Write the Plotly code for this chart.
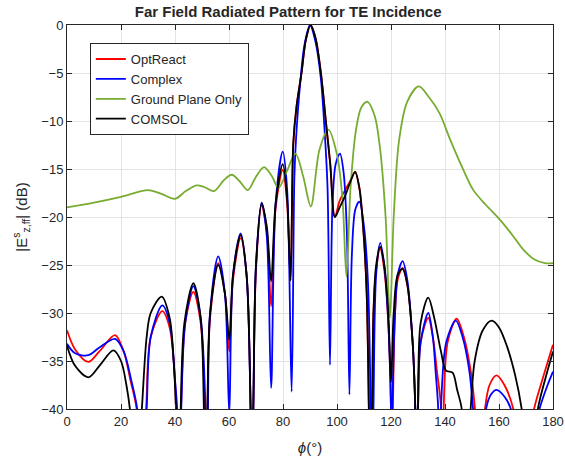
import plotly.graph_objects as go

# ground plane only
gp_phi = [0, 10, 20, 30, 35, 40, 44, 48, 51, 54.5, 58, 61, 64, 67, 70, 73, 76, 78.3, 81.5, 84.6,
          87.5, 90.3, 93.5, 96.8, 100, 102, 103.5, 105, 107, 109, 111.3, 114, 116, 118, 119.6,
          121, 123, 126, 130.3, 134, 138, 142, 146.8, 150.5, 155, 160.4, 165, 169, 173, 177, 180]
gp_db = [-19.0, -18.5, -17.9, -17.2, -17.6, -18.1, -17.3, -16.7, -16.9, -17.3, -16.2, -15.6, -16.3, -17.2,
         -15.8, -14.8, -15.8, -17.0, -15.2, -13.4, -15.8, -18.9, -13.0, -10.9, -13.5, -18.0, -26.2,
         -17.0, -11.0, -8.6, -8.0, -9.5, -13.0, -20.0, -30.5, -20.0, -12.0, -8.0, -6.4, -7.5, -9.2,
         -12.0, -15.1, -17.2, -18.7, -20.3, -21.9, -23.4, -24.4, -24.8, -24.8]

# COMSOL
cs_phi = [0, 3, 7.9, 12, 17.2, 20, 22, 23.5, 25.5, 27.6, 29.5, 31, 35.1, 38, 39.5, 40.5, 41.2, 42, 43.5,
          46.8, 49.5, 50.7, 51.3, 52, 53, 56, 58.5, 60.1, 61.5, 64.3, 66.5, 68, 68.4, 69, 70, 72.1, 74,
          75.6, 77.3, 79.9, 81.5, 82.8, 83.8, 85, 86.9, 88.5, 90.2, 92, 94, 95.9, 97.5, 99.2, 101, 103,
          105, 106.7, 108.3, 109.8, 111, 111.8, 112.3, 113, 113.5, 114.5, 116, 117.5, 119, 120, 121,
          122.5, 124.3, 126, 128, 129, 129.5, 130, 131, 133.8, 136, 138.5, 140.4, 142.8, 144.5, 146.2,
          147.8, 149.5, 151, 154, 157.3, 160, 163, 166, 168.4, 171.4, 174.4, 177, 180]
cs_db = [-33.4, -35.5, -36.7, -35.5, -33.9, -35.0, -37.5, -40.5, -48, -40.5, -32.5, -30.0, -28.3, -30.5,
         -35.0, -41, -48, -41, -31.0, -26.9, -30.5, -40, -48, -40, -30.0, -25.0, -28.0, -32.8, -26.0,
         -21.9, -26.0, -40, -48, -40, -25.0, -18.6, -21.0, -26.7, -18.5, -14.5, -18.0, -26.6, -12.3,
         -8.5, -4.9, -1.5, 0.0, -1.3, -4.9, -10.1, -14.5, -20.0, -19.0, -17.8, -16.3, -15.3, -17.0,
         -21.5, -28.0, -40, -48, -40, -30.0, -25.0, -23.1, -25.0, -30.0, -37.2, -30.0, -26.0, -25.4,
         -27.0, -33.0, -40, -48, -40, -31.0, -28.4, -30.5, -34.0, -36.0, -36.2, -38.0, -40, -48, -40,
         -35.0, -31.8, -30.8, -31.5, -33.5, -36.5, -40, -48, -40, -37.0, -34.0]

# OptReact
or_phi = [0, 3, 7.9, 12, 17.8, 21, 23.5, 25.8, 27.5, 29.3, 31, 35.3, 38, 40, 41, 42.2, 43.8, 46.8, 49.5,
          51, 51.5, 52, 53, 56, 58.5, 60.1, 61.5, 64.3, 66.5, 68, 68.4, 69, 70, 72.1, 74, 75.6, 77.3,
          79.9, 81.5, 82.8, 83.8, 85, 86.9, 88.5, 90.2, 92, 94, 95.9, 97.5, 99.2, 101, 103, 105, 106.7,
          108.3, 109.8, 111, 111.8, 112.3, 113, 113.5, 114.5, 116, 117.5, 119, 120, 120.3, 120.7, 121.5,
          122.5, 124.3, 126, 128, 129, 129.5, 130, 131, 133.8, 135.5, 137, 138.6, 139, 139.5, 141, 144.3,
          147, 149.5, 151.1, 153, 154.8, 156.5, 159.1, 162, 165.3, 169, 173, 176, 180]
or_db = [-31.8, -33.8, -35.1, -34.0, -32.3, -34.0, -37.0, -40, -48, -40, -32.5, -29.8, -31.5, -37.0, -48,
         -40, -31.0, -27.8, -31.0, -40, -48, -40, -30.5, -24.8, -28.0, -34.0, -26.5, -22.2, -26.0, -40,
         -48, -40, -25.5, -18.8, -21.5, -29.3, -19.0, -15.1, -18.5, -26.6, -12.5, -8.5, -4.9, -1.5, 0.0,
         -1.3, -4.9, -10.1, -14.5, -20.0, -18.3, -17.2, -16.2, -15.3, -17.0, -21.5, -28.0, -40, -48, -40,
         -30.0, -25.5, -23.3, -25.5, -31.0, -40, -48, -40, -30.0, -26.5, -25.3, -27.0, -33.0, -40, -48,
         -40, -33.0, -30.5, -32.5, -36.0, -40, -48, -40, -33.0, -30.6, -32.5, -36.0, -40, -48, -40,
         -37.5, -36.5, -37.5, -40, -48, -40, -37.0, -33.3]

# Complex
cx_phi = [0, 3, 7.9, 12, 17.8, 21, 23.8, 26, 27.8, 29.5, 31, 35.3, 38, 40, 40.8, 41.5, 42.3, 43.8, 46.8,
          49.5, 51.3, 51.7, 52.2, 53, 56, 58.5, 60.1, 61.5, 64.3, 66.5, 68, 68.4, 69, 70, 72.1, 74, 75.6,
          77.3, 79.9, 81.5, 83.2, 84.2, 84.8, 86.3, 88, 90, 92, 94, 95.3, 96.5, 97.4, 98.3, 99.5, 101.1,
          102.5, 103.7, 104.6, 105.5, 106.8, 108.3, 110, 111.5, 112.5, 113, 113.5, 114.5, 116, 117.5, 119,
          120, 120.2, 120.5, 121.5, 122.5, 124.3, 126, 128, 129, 129.5, 130, 131, 133.8, 135.5, 136.5,
          137.5, 138, 138.5, 140.5, 144, 146.5, 149, 150.4, 152.8, 155.2, 157, 159.1, 162, 164.4, 169,
          175, 178, 180]
cx_db = [-33.2, -34.2, -34.4, -33.6, -32.7, -34.0, -37.0, -40, -48, -40, -32.5, -29.2, -31.0, -37.0, -40,
         -48, -40, -31.0, -27.2, -30.5, -40, -48, -40, -30.0, -24.1, -28.0, -40.5, -26.0, -21.7, -26.0,
         -40, -48, -40, -25.0, -18.5, -22.0, -37.8, -18.5, -13.2, -17.0, -38.2, -16.0, -12.0, -6.3, -2.0,
         0.0, -1.7, -5.5, -10.5, -17.0, -35.4, -19.0, -14.5, -13.4, -15.5, -22.0, -38.5, -24.0, -19.2,
         -18.4, -21.0, -27.0, -40, -48, -40, -26.0, -22.7, -25.0, -31.0, -40, -48, -40, -30.0, -26.0,
         -24.6, -26.5, -33.0, -40, -48, -40, -33.0, -30.0, -32.5, -36.0, -40, -48, -40, -33.0, -30.8,
         -32.5, -36.0, -40, -48, -40, -38.5, -38.0, -38.7, -40, -48, -40, -37.5, -36.1]

fig = go.Figure()
series = [("OptReact", or_phi, or_db, "#ff0000"),
          ("Complex", cx_phi, cx_db, "#0000ff"),
          ("Ground Plane Only", gp_phi, gp_db, "#77ac30"),
          ("COMSOL", cs_phi, cs_db, "#000000")]
for name, x, y, c in series:
    fig.add_trace(go.Scatter(x=x, y=y, mode="lines", name=name,
                             line=dict(color=c, width=1.8, shape="spline", smoothing=0.9)))

axis_style = dict(showline=True, linecolor="#262626", linewidth=1, mirror="allticks",
                  ticks="inside", ticklen=5, tickcolor="#262626", showgrid=True,
                  gridcolor="#e3e3e3", gridwidth=1, zeroline=False, automargin=False,
                  tickfont=dict(family="Liberation Sans, Arial", size=13, color="#262626"))

fig.update_xaxes(range=[0, 180], dtick=20, title=dict(text="<i>ϕ</i>(°)", standoff=14,
                 font=dict(family="Liberation Sans, Arial", size=15, color="#262626")), **axis_style)
fig.update_yaxes(range=[-40, 0], dtick=5,
                 title=dict(text="|E<sup>s</sup><sub>z,ff</sub>| (dB)", standoff=10,
                            font=dict(family="Liberation Sans, Arial", size=15, color="#262626")),
                 **axis_style)

fig.update_layout(
    width=565, height=466,
    margin=dict(l=67, r=12, t=25, b=57, autoexpand=False),
    paper_bgcolor="white", plot_bgcolor="white",
    title=dict(text="<b>Far Field Radiated Pattern for TE Incidence</b>", x=0.51, xanchor="center",
               y=0.974, yanchor="middle", automargin=False,
               font=dict(family="Liberation Sans, Arial", size=15, color="#262626")),
    legend=dict(x=0.047, y=0.953, xanchor="left", yanchor="top", bgcolor="white",
                bordercolor="#262626", borderwidth=1,
                font=dict(family="Liberation Sans, Arial", size=13, color="#262626"),
                tracegroupgap=0),
    showlegend=True,
)

# drop the default 8px page margin so the figure fills the window
fig.write_html("out.html", config={"displayModeBar": False},
               post_script="document.body.style.margin='0px';")
